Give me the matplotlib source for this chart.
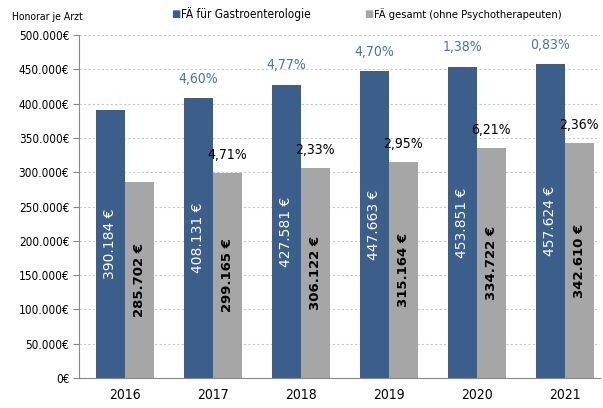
import matplotlib.pyplot as plt
import matplotlib.ticker as mticker
from matplotlib import font_manager

# values per year
years = ["2016", "2017", "2018", "2019", "2020", "2021"]
gastro = [390184, 408131, 427581, 447663, 453851, 457624]
gesamt = [285702, 299165, 306122, 315164, 334722, 342610]
gastro_pct = ["", "4,60%", "4,77%", "4,70%", "1,38%", "0,83%"]
gesamt_pct = ["", "4,71%", "2,33%", "2,95%", "6,21%", "2,36%"]

blue = "#3b5f8a"
grey = "#a6a6a6"

# narrow font (condensed DejaVu)
names = {f.name for f in font_manager.fontManager.ttflist}
if "Liberation Sans Narrow" in names:
    nf = dict(family="Liberation Sans Narrow")
else:
    nf = dict(family="DejaVu Sans", stretch="condensed")

def euro(v):
    return f"{v:,.0f}".replace(",", ".")

fig = plt.figure(figsize=(6.03, 4.08), dpi=100)
ax = fig.add_axes([0.131, 0.0735, 0.864, 0.8405])

x = list(range(len(years)))
w = 0.33
xb = [i - w / 2 for i in x]
xg = [i + w / 2 for i in x]
ax.bar(xb, gastro, w, color=blue, zorder=3)
ax.bar(xg, gesamt, w, color=grey, zorder=3)

for i in x:
    ax.text(xb[i], gastro[i] / 2, euro(gastro[i]) + " €", rotation=90, ha="center",
            va="center", color="white", fontsize=10, zorder=4)
    ax.text(xg[i], gesamt[i] / 2, euro(gesamt[i]) + " €", rotation=90, ha="center",
            va="center", color="black", fontsize=9.5, fontweight="bold", zorder=4)
    if gastro_pct[i]:
        ax.annotate(gastro_pct[i], (xb[i], gastro[i]), xytext=(0, 14), textcoords="offset points",
                    ha="center", va="center", color="#4a72a8", fontsize=10, **nf)
    if gesamt_pct[i]:
        ax.annotate(gesamt_pct[i], (xg[i], gesamt[i]), xytext=(0, 13), textcoords="offset points",
                    ha="center", va="center", color="black", fontsize=10, **nf)

ax.set_ylim(0, 500000)
ax.set_xlim(-0.52, 5.4)
ax.yaxis.set_major_locator(mticker.MultipleLocator(50000))
ax.yaxis.set_major_formatter(mticker.FuncFormatter(lambda v, p: euro(v) + "€"))
ax.set_xticks(x)
ax.set_xticklabels(years, fontsize=10, **nf)
for lbl in ax.get_yticklabels():
    lbl.set_fontproperties(font_manager.FontProperties(size=8.5, **nf))
ax.tick_params(axis="x", length=0, pad=7)
ax.tick_params(axis="y", length=4, color="#888888", pad=3)
ax.grid(axis="y", color="#c8c8c8", linestyle=(0, (2, 2)), linewidth=0.8, zorder=0)
for s in ["top", "right"]:
    ax.spines[s].set_visible(False)
ax.spines["left"].set_color("#888888")
ax.spines["bottom"].set_color("#888888")

fig.text(0.02, 0.958, "Honorar je Arzt", fontsize=7.5, va="center", **nf)
fig.text(0.283, 0.966, "■", color=blue, fontsize=7, va="center")
fig.text(0.300, 0.966, "FÄ für Gastroenterologie", fontsize=8.5, va="center", **nf)
fig.text(0.604, 0.966, "■", color=grey, fontsize=7, va="center")
fig.text(0.621, 0.966, "FÄ gesamt (ohne Psychotherapeuten)", fontsize=8, va="center", **nf)

fig.savefig("out.png", dpi=100)
